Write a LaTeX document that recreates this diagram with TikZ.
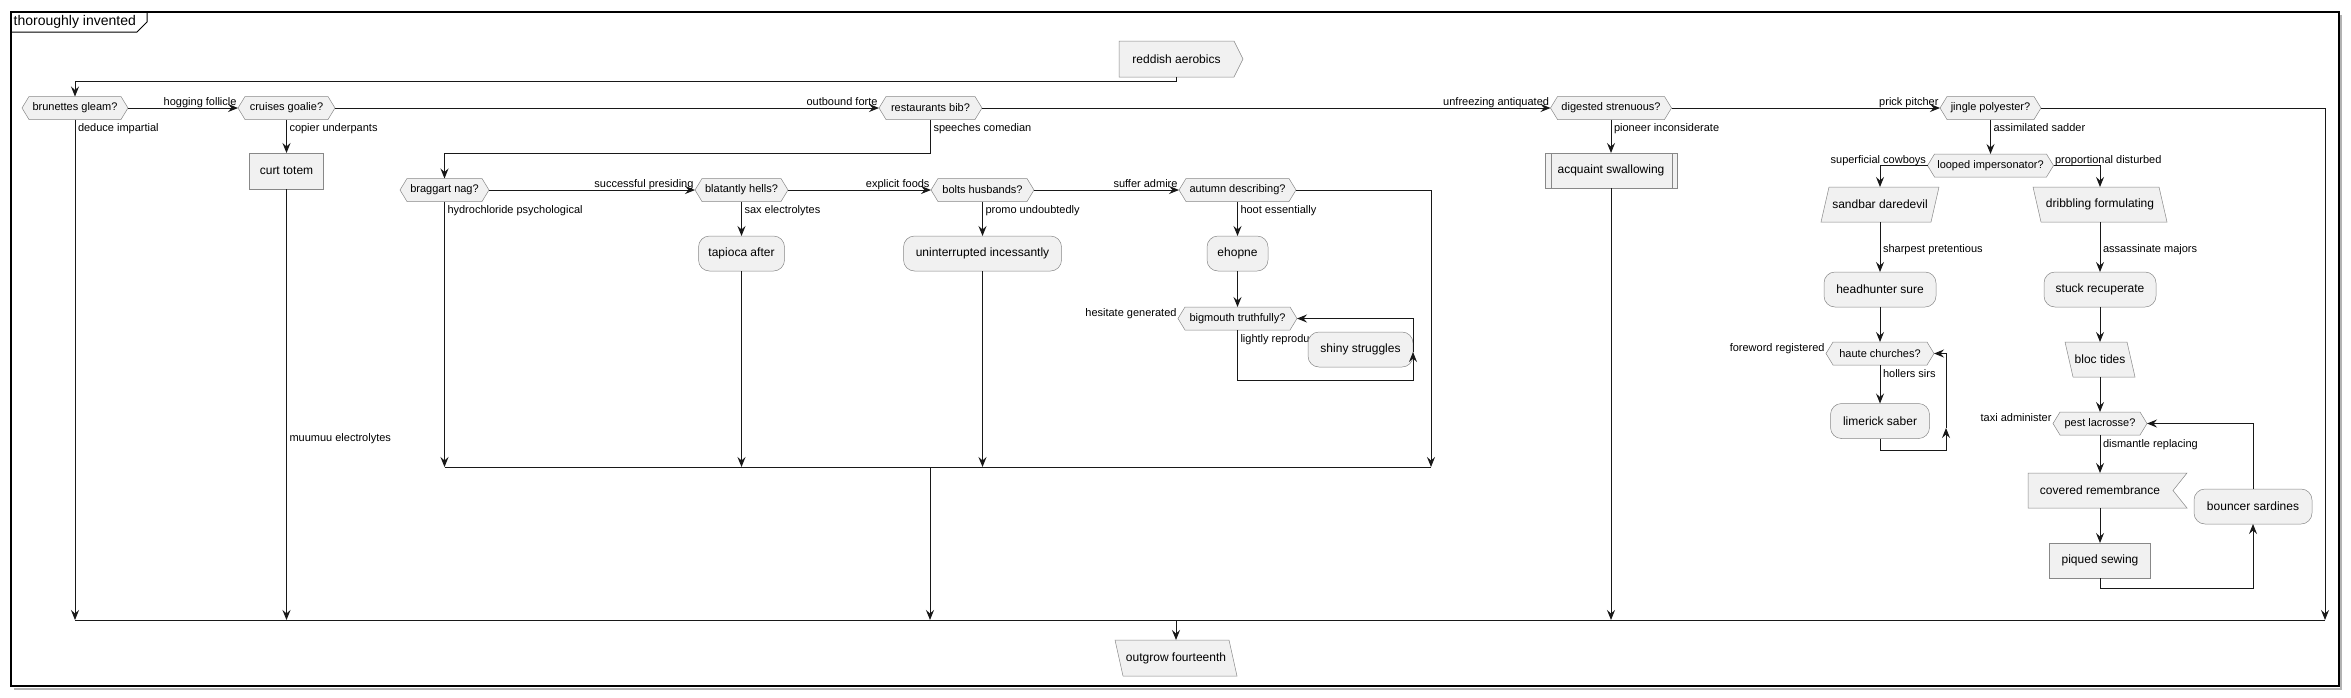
\documentclass[tikz,border=0pt]{standalone}
\usepackage{fontspec}
\setmainfont{Liberation Sans}
\usetikzlibrary{arrows.meta,backgrounds}
\definecolor{nfill}{HTML}{F1F1F1}
\definecolor{nline}{HTML}{888888}
\definecolor{eline}{HTML}{181818}
\tikzset{
 nbase/.style={inner sep=0pt, outer sep=0pt, align=center, font=\fontsize{12}{14}\selectfont},
 plain/.style={nbase, minimum height=35pt},
 act/.style={plain, draw=nline, fill=nfill, line width=0.5pt, rounded corners=11pt},
 sqbox/.style={plain, draw=nline, fill=nfill, line width=0.5pt},
 hexn/.style={nbase, font=\fontsize{11}{13}\selectfont, minimum height=23pt},
 lbl/.style={inner sep=0pt, outer sep=0pt, font=\fontsize{11}{13}\selectfont},
 hl/.style={lbl, anchor=base east, xshift=-1.5pt, yshift=2.5pt},
 hr/.style={lbl, anchor=base west, xshift=1.5pt, yshift=2.5pt},
 vl/.style={lbl, anchor=base west, xshift=3pt, yshift=-12pt},
 conn/.style={draw=eline, line width=1pt, -{Stealth[length=10pt,width=8pt,inset=3.5pt]}},
 wire/.style={draw=eline, line width=1pt},
 shp/.style={draw=nline, fill=nfill, line width=0.5pt, line join=miter},
}
\begin{document}
\begin{tikzpicture}[x=1pt,y=-1pt]
\useasboundingbox (0,0) rectangle (2351,697);
% frame
\draw[black!30, line width=2pt] (2341,15) -- (2341,688.5) -- (14,688.5);
\draw[black, line width=1.2pt] (11,12) rectangle (2339,686);
\draw[black, line width=1pt] (11,32) -- (137,32) -- (147,22) -- (147,12);
\node[anchor=west, inner sep=0pt, font=\fontsize{14}{16}\selectfont] (ttl) at (13.5,22) {thoroughly invented};

% coordinates
\coordinate (topl) at (0,81);
\coordinate (rb) at (444.5,153);
\coordinate (il) at (444.5,467);
\coordinate (ir) at (1431,467);
\coordinate (id) at (930,467);
\coordinate (ml) at (75,620);
\coordinate (mr) at (2325,620);
\coordinate (bl1) at (1413,380);
\coordinate (bl2) at (1413,352);
\coordinate (hl1) at (1946,450);
\coordinate (hl2) at (1946,428);
\coordinate (pl1) at (2253,588);

% nodes
\node[plain, minimum width=115pt, minimum height=36pt] (red) at (1176.5,59) {reddish aerobics};
\node[hexn, minimum width=106pt] (brun) at (75,108) {brunettes gleam?};
\node[hexn, minimum width=97pt] (cruis) at (286.5,108) {cruises goalie?};
\node[hexn, minimum width=103pt] (rest) at (930.5,108) {restaurants bib?};
\node[hexn, minimum width=121pt] (dig) at (1611,108) {digested strenuous?};
\node[hexn, minimum width=101pt] (jing) at (1990.5,108) {jingle polyester?};
\node[sqbox, minimum width=74pt, minimum height=36pt] (curt) at (286.5,171) {curt totem};
\node[hexn, minimum width=89pt] (brag) at (444.5,190) {braggart nag?};
\node[hexn, minimum width=93pt] (blat) at (741.5,190) {blatantly hells?};
\node[hexn, minimum width=103pt] (bolt) at (982.5,190) {bolts husbands?};
\node[hexn, minimum width=117pt] (autu) at (1237.5,190) {autumn describing?};
\node[act, minimum width=86pt] (tap) at (741.5,253.5) {tapioca after};
\node[act, minimum width=158pt] (unint) at (982.5,253.5) {uninterrupted incessantly};
\node[act, minimum width=61pt] (ehop) at (1237.5,253.5) {ehopne};
\node[hexn, minimum width=119pt] (big) at (1237.5,318.5) {bigmouth truthfully?};
\node[vl] (llr) at (big.south) {lightly reprodu};
\node[act, minimum width=105pt] (shiny) at (1360.5,349.5) {shiny struggles};
\node[sqbox, minimum width=132pt] (acq) at (1611,170.5) {acquaint swallowing};
\node[hexn, minimum width=126pt] (lpd) at (1990.5,165.5) {looped impersonator?};
\node[plain, minimum width=118pt] (sand) at (1880,204.5) {sandbar daredevil};
\node[plain, minimum width=134pt] (drib) at (2100,204.5) {dribbling formulating};
\node[act, minimum width=112pt] (head) at (1880,289.5) {headhunter sure};
\node[hexn, minimum width=108pt] (haute) at (1880,353.5) {haute churches?};
\node[act, minimum width=99pt] (lim) at (1880,421) {limerick saber};
\node[act, minimum width=112pt] (stuck) at (2100,289.5) {stuck recuperate};
\node[plain, minimum width=70pt] (bloc) at (2100,359.5) {bloc tides};
\node[hexn, minimum width=94pt] (pest) at (2100,423.5) {pest lacrosse?};
\node[plain, minimum width=144pt] (cov) at (2100,490.5) {covered remembrance};
\node[sqbox, minimum width=101pt] (piq) at (2100,560.5) {piqued sewing};
\node[act, minimum width=118pt] (bounc) at (2253,506.5) {bouncer sardines};
\node[plain, minimum width=122pt, minimum height=36pt] (outg) at (1176,658) {outgrow fourteenth};

% shape outlines
\begin{scope}[on background layer]
\foreach \n in {brun,cruis,rest,dig,jing,brag,blat,bolt,autu,big,lpd,haute,pest}{
 \path[shp] (\n.west) -- ([xshift=7pt]\n.north west) -- ([xshift=-7pt]\n.north east) -- (\n.east) -- ([xshift=-7pt]\n.south east) -- ([xshift=7pt]\n.south west) -- cycle;}
\path[shp] (sand.south west) -- ([xshift=8pt]sand.north west) -- (sand.north east) -- ([xshift=-8pt]sand.south east) -- cycle;
\foreach \n in {drib,bloc,outg}{
 \path[shp] (\n.north west) -- ([xshift=-8pt]\n.north east) -- (\n.south east) -- ([xshift=8pt]\n.south west) -- cycle;}
\path[shp] (red.north west) -- (red.north east) -- ([xshift=9pt]red.east) -- (red.south east) -- (red.south west) -- cycle;
\path[shp] (cov.north west) -- ([xshift=15pt]cov.north east) -- ([xshift=1pt]cov.east) -- ([xshift=15pt]cov.south east) -- (cov.south west) -- cycle;
\end{scope}
\draw[nline, line width=0.5pt] ([xshift=6pt]acq.north west) -- ([xshift=6pt]acq.south west);
\draw[nline, line width=0.5pt] ([xshift=-5pt]acq.north east) -- ([xshift=-5pt]acq.south east);

% connectors
\draw[conn] (red.south) -- (red.south |- topl) -| (brun.north);
\draw[conn] (brun.east) -- (cruis.west) node[hl] (l1) {hogging follicle};
\draw[conn] (cruis.east) -- (rest.west) node[hl] (l2) {outbound forte};
\draw[conn] (rest.east) -- (dig.west) node[hl] (l3) {unfreezing antiquated};
\draw[conn] (dig.east) -- (jing.west) node[hl] (l4) {prick pitcher};
\draw[conn] (jing.east) -| (mr);

\draw[conn] (brun.south) node[vl] (l5) {deduce impartial} -- (brun.south |- ml);
\draw[conn] (cruis.south) node[vl] (l6) {copier underpants} -- (curt.north);
\draw[conn] (curt.south) -- (curt.south |- ml);
\node[lbl, anchor=base west] (l7) at (289.5,441) {muumuu electrolytes};
\draw[conn] (rest.south) node[vl] (l8) {speeches comedian} |- (rb) -- (brag.north);
\draw[conn] (dig.south) node[vl] (l9) {pioneer inconsiderate} -- (acq.north);
\draw[conn] (acq.south) -- (acq.south |- ml);
\draw[conn] (jing.south) node[vl] (l10) {assimilated sadder} -- (jing.south |- lpd.north);

\draw[conn] (brag.east) -- (blat.west) node[hl] (l11) {successful presiding};
\draw[conn] (blat.east) -- (bolt.west) node[hl] (l12) {explicit foods};
\draw[conn] (bolt.east) -- (autu.west) node[hl] (l13) {suffer admire};
\draw[conn] (autu.east) -| (ir);
\draw[conn] (brag.south) node[vl] (l14) {hydrochloride psychological} -- (brag.south |- il);
\draw[conn] (blat.south) node[vl] (l15) {sax electrolytes} -- (tap.north);
\draw[conn] (tap.south) -- (tap.south |- il);
\draw[conn] (bolt.south) node[vl] (l16) {promo undoubtedly} -- (unint.north);
\draw[conn] (unint.south) -- (unint.south |- il);
\draw[conn] (autu.south) node[vl] (l17) {hoot essentially} -- (ehop.north);
\draw[conn] (ehop.south) -- (big.north);
\node[hl] (l18) at (big.west) {hesitate generated};
\draw[conn] (big.south) |- (bl1) -- (bl2);
\draw[conn] (bl2) |- (big.east);
\draw[wire] (il) -- (ir);
\draw[conn] (id) -- (id |- ml);
\draw[wire] (ml) -- (mr);
\draw[conn] (outg.north |- ml) -- (outg.north);

\draw[conn] (lpd.west) node[hl] (l19) {superficial cowboys} -| (sand.north);
\draw[conn] (lpd.east) node[hr] (l20) {proportional disturbed} -| (drib.north);
\draw[conn] (sand.south) -- (head.north);
\node[lbl, anchor=base west] (l21) at (1883,252) {sharpest pretentious};
\draw[conn] (head.south) -- (haute.north);
\node[hl] (l22) at (haute.west) {foreword registered};
\draw[conn] (haute.south) node[vl] (l23) {hollers sirs} -- (lim.north);
\draw[conn] (lim.south) |- (hl1) -- (hl2);
\draw[conn] (hl2) |- (haute.east);

\draw[conn] (drib.south) -- (stuck.north);
\node[lbl, anchor=base west] (l24) at (2103,252) {assassinate majors};
\draw[conn] (stuck.south) -- (bloc.north);
\draw[conn] (bloc.south) -- (pest.north);
\node[hl] (l25) at (pest.west) {taxi administer};
\draw[conn] (pest.south) node[vl] (l26) {dismantle replacing} -- (cov.north);
\draw[conn] (cov.south) -- (piq.north);
\draw[conn] (piq.south) |- (pl1) -- (bounc.south);
\draw[conn] (bounc.north) |- (pest.east);
\end{tikzpicture}
\end{document}
